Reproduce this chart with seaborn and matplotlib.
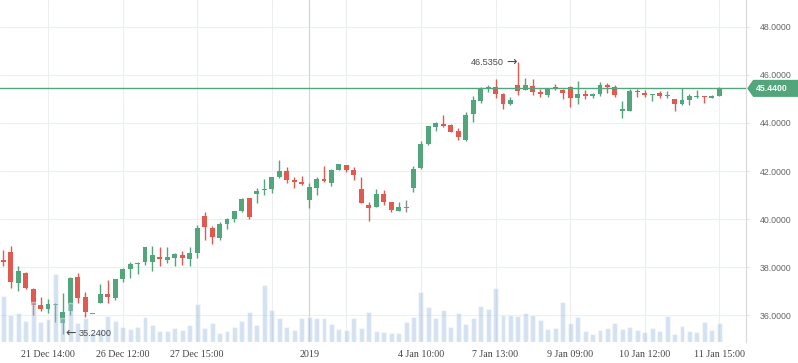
import matplotlib.pyplot as plt
import matplotlib.transforms as mtransforms
import numpy as np
import seaborn as sns
from matplotlib.path import Path

# 1時間足 (OHLC)
open_ = [38.32, 38.64, 37.36, 37.76, 37.10, 36.43, 36.28, 36.45, 35.67, 36.20,
         37.60, 36.77, 36.09, 36.52, 36.88, 36.74, 37.53, 37.94, 38.15, 38.22,
         38.22, 38.43, 38.30, 38.39, 38.51, 38.35, 38.59, 40.13, 39.63, 39.22,
         39.80, 40.01, 40.35, 40.88, 41.06, 41.23, 41.26, 41.75, 42.00, 41.63,
         41.55, 40.80, 41.30, 41.67, 41.51, 42.05, 42.25, 42.05, 41.26, 40.59,
         40.51, 41.05, 40.72, 40.34, 40.49, 41.30, 42.13, 43.13, 43.83, 43.96,
         43.92, 43.67, 43.29, 44.37, 44.91, 45.46, 45.50, 45.21, 44.79, 45.58,
         45.37, 45.54, 45.29, 45.16, 45.47, 45.37, 45.50, 45.04, 45.21, 45.12,
         45.21, 45.58, 45.51, 44.52, 44.50, 45.33, 45.25, 45.17, 45.25, 45.12,
         45.00, 44.79, 44.96, 45.10, 45.12, 45.04, 45.12]
high = [38.72, 38.89, 38.05, 37.80, 37.15, 36.77, 36.67, 36.53, 36.93, 37.60,
        37.78, 36.98, 36.10, 37.29, 37.47, 37.51, 37.97, 38.22, 38.22, 38.84,
        38.89, 38.84, 38.84, 38.59, 38.68, 38.84, 39.76, 40.30, 39.72, 39.88,
        40.05, 40.34, 40.88, 40.88, 41.30, 41.67, 41.75, 42.46, 42.17, 41.75,
        41.80, 41.51, 41.75, 42.21, 42.09, 42.30, 42.26, 42.17, 41.75, 40.72,
        41.26, 41.21, 40.72, 40.72, 40.80, 42.21, 43.25, 43.88, 44.04, 44.33,
        43.96, 43.79, 44.46, 45.12, 45.50, 45.58, 45.83, 45.25, 45.08, 46.535,
        45.87, 45.83, 45.41, 45.41, 45.62, 45.40, 45.54, 45.75, 45.37, 45.25,
        45.70, 45.66, 45.58, 44.91, 45.41, 45.41, 45.37, 45.22, 45.33, 45.33,
        45.00, 45.46, 45.21, 45.37, 45.12, 45.16, 45.50]
low = [38.07, 37.15, 37.03, 37.11, 36.02, 36.18, 36.11, 35.74, 35.24, 36.02,
       36.53, 35.93, 36.08, 36.52, 36.51, 36.65, 37.40, 37.57, 37.72, 38.10,
       37.85, 38.05, 38.18, 38.05, 38.10, 38.05, 38.39, 39.13, 38.97, 39.13,
       39.59, 39.88, 40.31, 40.01, 40.69, 41.02, 41.10, 41.71, 41.51, 41.30,
       41.42, 40.47, 41.01, 41.55, 41.38, 42.05, 41.96, 41.63, 40.67, 39.93,
       40.51, 40.59, 40.30, 40.34, 40.30, 41.13, 42.09, 43.09, 43.67, 43.83,
       43.63, 43.29, 43.25, 44.04, 44.83, 45.29, 45.04, 44.58, 44.75, 45.16,
       45.37, 45.16, 45.08, 45.08, 45.37, 45.01, 44.68, 44.79, 45.00, 45.04,
       45.12, 45.25, 45.08, 44.21, 44.50, 45.08, 45.08, 44.91, 45.04, 45.04,
       44.50, 44.75, 44.75, 45.04, 44.83, 45.04, 45.12]
close = [38.23, 37.40, 37.85, 37.15, 36.43, 36.27, 36.47, 36.46, 36.14, 37.57,
         36.74, 36.14, 36.09, 36.88, 36.77, 37.51, 37.93, 38.14, 38.17, 38.84,
         38.51, 38.35, 38.44, 38.55, 38.39, 38.59, 39.63, 39.68, 39.26, 39.80,
         40.01, 40.34, 40.84, 40.09, 41.17, 41.26, 41.75, 42.00, 41.63, 41.55,
         41.46, 41.34, 41.67, 41.59, 42.05, 42.30, 42.05, 41.84, 40.67, 40.47,
         41.05, 40.72, 40.38, 40.51, 40.49, 42.09, 43.13, 43.88, 44.00, 43.88,
         43.63, 43.42, 44.33, 44.96, 45.46, 45.51, 45.21, 44.79, 44.96, 45.33,
         45.58, 45.29, 45.21, 45.41, 45.44, 45.26, 45.05, 45.21, 45.12, 45.21,
         45.58, 45.50, 45.16, 44.56, 45.33, 45.29, 45.16, 45.21, 45.12, 45.16,
         44.79, 44.96, 45.12, 45.12, 45.10, 45.12, 45.44]
# 出来高
volume = [46, 27, 29, 21, 40, 20, 23, 68, 24, 39,
          19, 24, 9, 13, 26, 21, 15, 13, 15, 25,
          17, 11, 11, 14, 12, 17, 38, 14, 19, 9,
          11, 15, 21, 30, 17, 57, 32, 24, 15, 12,
          24, 25, 24, 24, 18, 13, 12, 24, 14, 30,
          11, 10, 9, 9, 20, 25, 50, 35, 24, 32,
          15, 29, 18, 24, 36, 33, 54, 27, 27, 26,
          29, 27, 22, 13, 14, 40, 19, 25, 11, 8,
          12, 14, 19, 13, 15, 12, 10, 14, 11, 26,
          8, 16, 11, 10, 20, 12, 19]

tick_pos = [6, 16, 26, 36, 41, 46, 56, 66, 76, 86, 96]
tick_labels = ["21 Dec 14:00", "26 Dec 12:00", "27 Dec 15:00", "", "2019", "",
               "4 Jan 10:00", "7 Jan 13:00", "9 Jan 09:00", "10 Jan 12:00",
               "11 Jan 15:00"]
year_pos = 41
last_price = 45.44
max_price, max_idx = 46.535, 69
min_price, min_idx = 35.24, 8

up_color = "#53a57b"
down_color = "#e05a50"
flat_color = "#8c8c8c"
note_color = "#4d4d4d"

sns.set_style("white")
plt.rcParams["font.family"] = ["Liberation Sans", "DejaVu Sans"]


def price_tag(x0, y0, width, height, mutation_size):
    # 左側が尖ったラベル
    pad = 0.38 * mutation_size
    left = x0 - 0.25 * mutation_size
    right = x0 + width + 1.3 * mutation_size
    bottom, top = y0 - pad, y0 + height + pad
    tip = (top - bottom) * 0.35
    verts = [(left, bottom), (right, bottom), (right, top), (left, top),
             (left - tip, (top + bottom) / 2), (left, bottom)]
    return Path(verts, closed=True)


o = np.array(open_)
c = np.array(close)
h = np.array(high)
l = np.array(low)
x = np.arange(len(c))
colors = np.where(c > o, up_color, np.where(c < o, down_color, flat_color))

fig = plt.figure(figsize=(7.98, 3.63), dpi=100)
ax = fig.add_axes([0, 21 / 363, 746 / 798, 342 / 363])

# ローソク足
ax.vlines(x, l, h, colors=colors, lw=1.0, zorder=2)
body = np.maximum(np.abs(c - o), 0.05)
bottom = np.minimum(o, c) - (body - np.abs(c - o)) / 2
ax.bar(x, body, bottom=bottom, width=0.66, color=colors, linewidth=0, zorder=2)

# 現在値ライン
ax.axhline(last_price, color=up_color, lw=1.0, zorder=3)

# 出来高 (上に半透明で重ねる)
ax2 = ax.twinx()
sns.barplot(x=x, y=volume, native_scale=True, errorbar=None, color="#9fbde0",
            alpha=0.45, width=0.66, saturation=1, ax=ax2)
ax2.set_ylim(0, 342)
ax2.set_yticks([])
ax2.set_ylabel("")
for s in ax2.spines.values():
    s.set_visible(False)

# 軸の設定
ax.set_xlim(-0.44, 99.58)
ax.set_ylim(34.894, 49.114)
ax.yaxis.tick_right()
yt = np.arange(36, 49, 2)
ax.set_yticks(yt)
ax.set_yticklabels([f"{v:.4f}" for v in yt], fontsize=6.3, color="#666666")
ax.set_xticks(tick_pos)
ax.set_xticklabels(tick_labels, family=["Liberation Serif", "DejaVu Serif"],
                   fontsize=7.2, color="#444444")
ax.tick_params(axis="x", length=0, pad=6)
ax.tick_params(axis="y", length=2, pad=8, color="#e0e0e0")
ax.grid(True, color="#eceef1", lw=0.8)
ax.set_axisbelow(True)
ax.axvline(year_pos, color="#d5d5d5", lw=0.8, zorder=1)
for side in ["left", "top", "bottom"]:
    ax.spines[side].set_visible(False)
ax.spines["right"].set_color("#d9d9d9")
ax.spines["right"].set_linewidth(0.8)

# 最高値・最安値 (出来高より前面)
ax2.annotate("→", xy=(max_idx - 0.15, max_price), xycoords=ax.transData,
             ha="right", va="center", fontsize=9, family="DejaVu Sans",
             color=note_color, zorder=4)
ax2.annotate(f"{max_price:.4f}", xy=(max_idx - 0.15, max_price),
             xycoords=ax.transData, xytext=(-13, 0), textcoords="offset pixels",
             ha="right", va="center", fontsize=6.6, color=note_color, zorder=4)
ax2.annotate("←", xy=(min_idx + 0.35, min_price), xycoords=ax.transData,
             ha="left", va="center", fontsize=9, family="DejaVu Sans",
             color=note_color, zorder=4)
ax2.annotate(f"{min_price:.4f}", xy=(min_idx + 0.35, min_price),
             xycoords=ax.transData, xytext=(13, 0), textcoords="offset pixels",
             ha="left", va="center", fontsize=6.6, color=note_color, zorder=4)

# 現在値ラベル
trans = mtransforms.blended_transform_factory(ax.transAxes, ax.transData)
ax2.text(1.013, last_price, f"{last_price:.4f}", transform=trans, ha="left",
         va="center", fontsize=6.3, fontweight="bold", color="white",
         bbox=dict(boxstyle=price_tag, fc=up_color, ec=up_color), clip_on=False,
         zorder=5)

fig.savefig("out.png", dpi=100)
